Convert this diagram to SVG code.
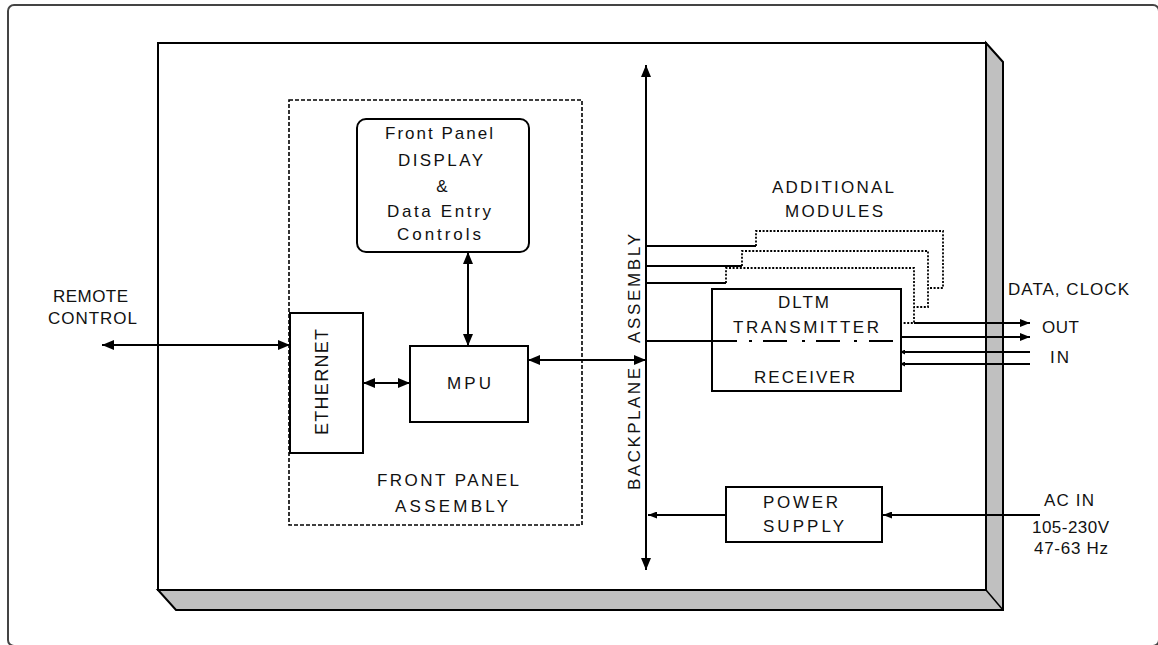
<svg xmlns="http://www.w3.org/2000/svg" width="1158" height="645" viewBox="0 0 1158 645">
<style>
  .box{fill:#fff;stroke:#000;stroke-width:2}
  .ln{fill:none;stroke:#000;stroke-width:2}
  .dot{fill:none;stroke:#000;stroke-width:1.8;stroke-dasharray:2 1.6}
  .dash{fill:none;stroke:#000;stroke-width:1.6;stroke-dasharray:4 2}
  text{font-family:"Liberation Sans",Arial,sans-serif;font-size:17px;fill:#111}
  .rot{font-size:17px}
</style>
<defs>
  <marker id="ah" markerUnits="userSpaceOnUse" viewBox="0 0 12 10" refX="12" refY="5" markerWidth="12" markerHeight="10" orient="auto-start-reverse"><path d="M0,0 L12,5 L0,10 Z" fill="#000"/></marker>
  <marker id="am" markerUnits="userSpaceOnUse" viewBox="0 0 10 8" refX="10" refY="4" markerWidth="10" markerHeight="8" orient="auto-start-reverse"><path d="M0,0 L10,4 L0,8 Z" fill="#000"/></marker>
  <marker id="as" markerUnits="userSpaceOnUse" viewBox="0 0 9 7" refX="9" refY="3.5" markerWidth="9" markerHeight="7" orient="auto-start-reverse"><path d="M0,0 L9,3.5 L0,7 Z" fill="#000"/></marker>
  <marker id="at" markerUnits="userSpaceOnUse" viewBox="0 0 5 5" refX="3" refY="2.5" markerWidth="5" markerHeight="5" orient="auto"><path d="M0,0 L5,2.5 L0,5 Z" fill="#000"/></marker>
</defs>

<g id="outer-frame">
  <rect x="8" y="5" width="1151" height="641" rx="6" fill="#fff" stroke="#444" stroke-width="2"/>
</g>

<g id="chassis">
  <polygon points="986,43 1003,62 1003,610 176,610 158,590 986,590" fill="#c0c0c0" stroke="#000" stroke-width="2" stroke-linejoin="miter"/>
  <line x1="986" y1="590" x2="1003" y2="610" stroke="#000" stroke-width="1.5"/>
  <rect x="158" y="43" width="828" height="547" class="box"/>
</g>

<g id="front-panel-assembly">
  <rect x="289" y="100" width="293" height="425" class="dash"/>
  <text x="377" y="486" textLength="142" lengthAdjust="spacing">FRONT PANEL</text>
  <text x="395" y="512" textLength="113" lengthAdjust="spacing">ASSEMBLY</text>
</g>

<g id="display">
  <rect x="357" y="119" width="172" height="133" rx="9" class="box"/>
  <text x="385" y="139" textLength="108" lengthAdjust="spacing">Front Panel</text>
  <text x="398" y="166" textLength="85" lengthAdjust="spacing">DISPLAY</text>
  <text x="442" y="192" text-anchor="middle">&amp;</text>
  <text x="387" y="217" textLength="104" lengthAdjust="spacing">Data Entry</text>
  <text x="397" y="240" textLength="84" lengthAdjust="spacing">Controls</text>
</g>

<g id="ethernet">
  <rect x="290" y="313" width="73" height="140" class="box"/>
  <text class="rot" transform="translate(328,435) rotate(-90)" x="0" y="0" textLength="106" lengthAdjust="spacing" style="font-size:18px">ETHERNET</text>
</g>

<g id="mpu">
  <rect x="410" y="346" width="118" height="76" class="box"/>
  <text x="447" y="389" textLength="44" lengthAdjust="spacing">MPU</text>
</g>

<g id="backplane">
  <text class="rot" transform="translate(640,490) rotate(-90)" x="0" y="0" textLength="122" lengthAdjust="spacing">BACKPLANE</text>
  <text class="rot" transform="translate(640,343) rotate(-90)" x="0" y="0" textLength="109" lengthAdjust="spacing">ASSEMBLY</text>
</g>

<g id="additional-modules">
  <text x="772" y="193" textLength="122" lengthAdjust="spacing">ADDITIONAL</text>
  <text x="785" y="217" textLength="98" lengthAdjust="spacing">MODULES</text>
  <path class="dot" d="M756,246 V231 H943 V288 H928"/>
  <path class="dot" d="M742,266 V251 H928 V307 H914"/>
  <path class="dot" d="M726,283 V268 H914 V323 H901"/>
</g>

<g id="dltm">
  <rect x="712" y="289" width="189" height="102" class="box"/>
  <text x="778" y="308" textLength="51" lengthAdjust="spacing">DLTM</text>
  <text x="733" y="333" textLength="146" lengthAdjust="spacing">TRANSMITTER</text>
  <text x="754" y="383" textLength="101" lengthAdjust="spacing">RECEIVER</text>
</g>

<g id="power-supply">
  <rect x="726" y="487" width="156" height="55" class="box"/>
  <text x="763" y="508" textLength="75" lengthAdjust="spacing">POWER</text>
  <text x="763" y="532" textLength="81" lengthAdjust="spacing">SUPPLY</text>
</g>

<g id="external-labels">
  <text x="53" y="302" textLength="75" lengthAdjust="spacing">REMOTE</text>
  <text x="48" y="324" textLength="89" lengthAdjust="spacing">CONTROL</text>
  <text x="1008" y="295" textLength="121" lengthAdjust="spacing">DATA, CLOCK</text>
  <text x="1042" y="333" textLength="37" lengthAdjust="spacing">OUT</text>
  <text x="1050" y="363" textLength="19" lengthAdjust="spacing">IN</text>
  <text x="1044" y="506" textLength="50" lengthAdjust="spacing">AC IN</text>
  <text x="1032" y="533" textLength="77" lengthAdjust="spacing">105-230V</text>
  <text x="1034" y="554" textLength="74" lengthAdjust="spacing">47-63 Hz</text>
</g>

<g id="connectors">
  <path class="ln" d="M646,65 V570" marker-start="url(#ah)" marker-end="url(#ah)"/>
  <path class="ln" d="M102,345 H290" marker-start="url(#ah)" marker-end="url(#ah)"/>
  <path class="ln" d="M468,252 V346" marker-start="url(#ah)" marker-end="url(#ah)"/>
  <path class="ln" d="M363,383 H410" marker-start="url(#ah)" marker-end="url(#ah)"/>
  <path class="ln" d="M528,360 H646" marker-start="url(#ah)" marker-end="url(#ah)"/>
  <path class="ln" d="M646,341 H737 M749,341 H752 M763,341 H787 M802,341 H805 M816,341 H840 M854,341 H857 M869,341 H893"/>
  <path class="ln" d="M646,246 H756 M646,266 H742 M646,283 H726"/>
  <path class="ln" d="M914,323 H1030" marker-end="url(#am)"/>
  <path class="ln" d="M901,337 H1030" marker-end="url(#am)"/>
  <path class="ln" d="M1030,352 H902" marker-end="url(#at)"/>
  <path class="ln" d="M1030,364 H902" marker-end="url(#at)"/>
  <path class="ln" d="M726,515 H648" marker-end="url(#as)"/>
  <path class="ln" d="M1040,515 H883" marker-end="url(#as)"/>
</g>
</svg>
